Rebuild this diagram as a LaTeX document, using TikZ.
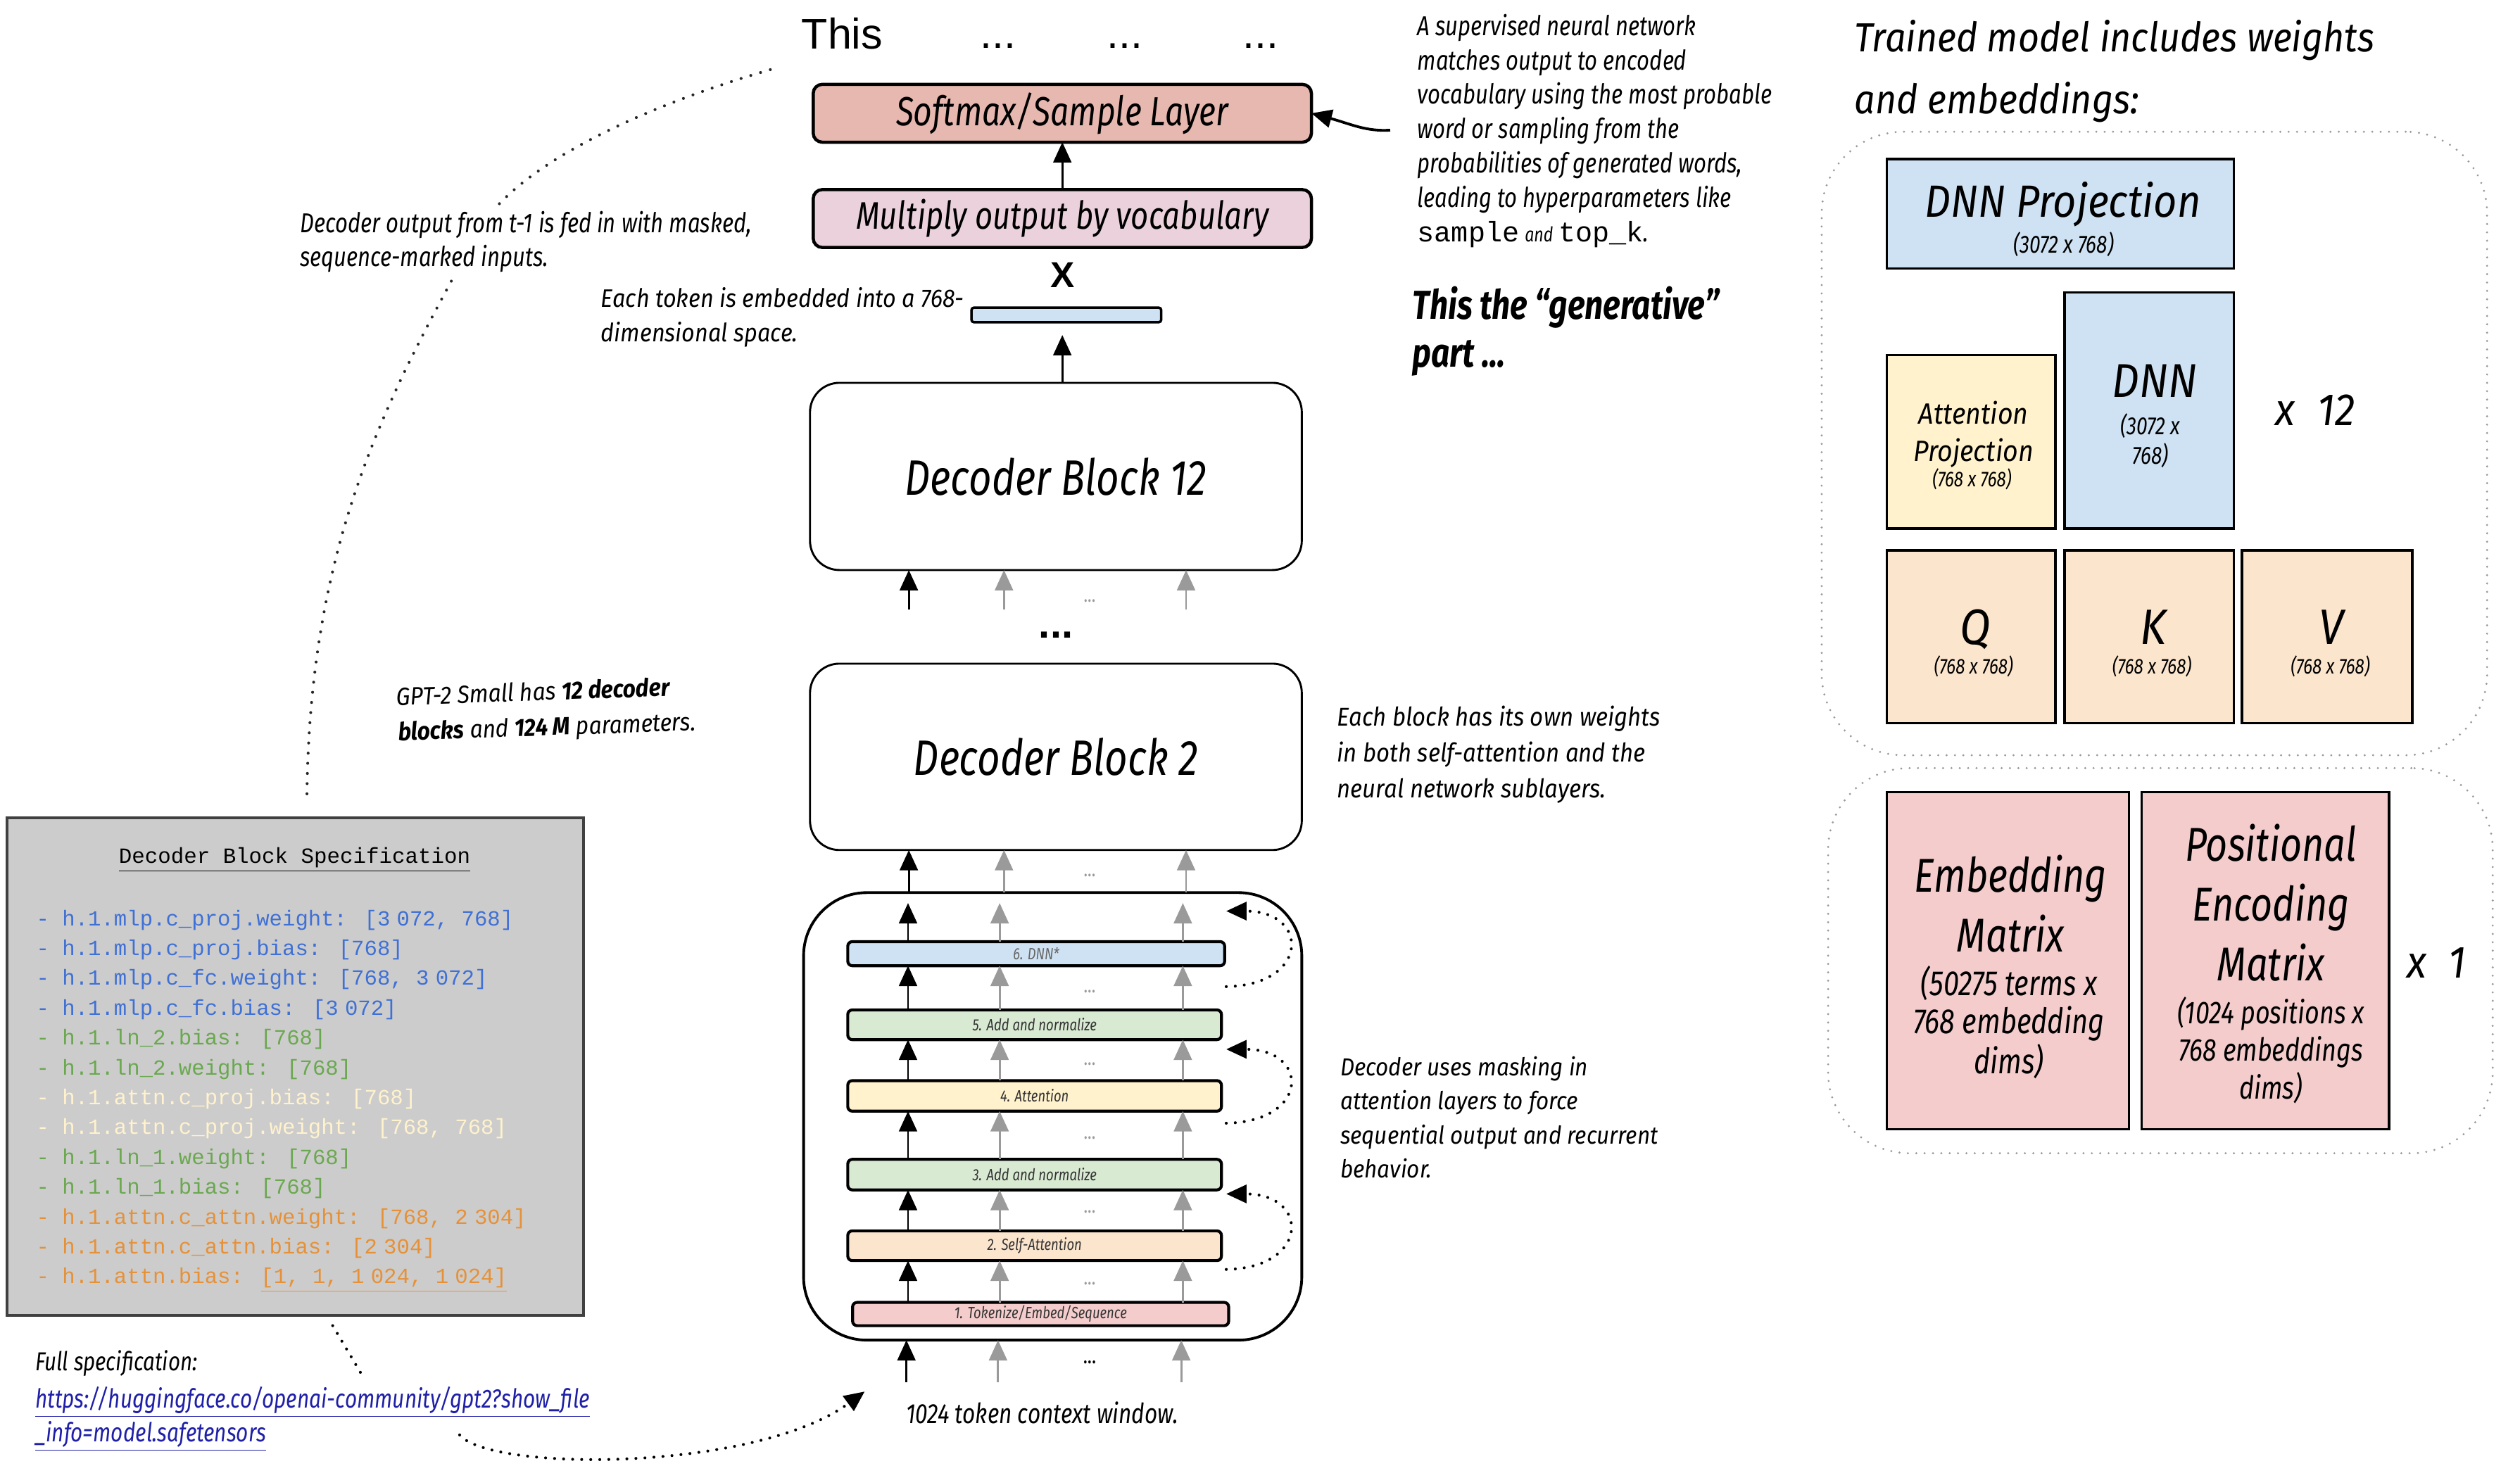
\documentclass[tikz,border=0pt]{standalone}
\usepackage{fontspec}
\setmainfont{Fira Sans}
\newfontfamily\fcav[FakeStretch=0.8]{Fira Sans}
\newfontfamily\fpat[FakeStretch=0.9]{Fira Sans}
\newfontfamily\fmono{Liberation Mono}
\newfontfamily\farial{Liberation Sans}
\usetikzlibrary{arrows.meta,calc}
\newdimen\U \U=0.025cm
\newcommand{\fsz}[2]{\fontsize{#1}{#2}\selectfont}
\newcommand{\lns}[1]{\begin{tabular}[t]{@{}l@{}}#1\end{tabular}}
\newcommand{\clns}[1]{\begin{tabular}[t]{@{}c@{}}#1\end{tabular}}
\definecolor{smx}{HTML}{E6B8AF}
\definecolor{mul}{HTML}{EAD1DC}
\definecolor{lblue}{HTML}{CFE2F3}
\definecolor{lgreen}{HTML}{D9EAD3}
\definecolor{lyellow}{HTML}{FFF2CC}
\definecolor{lorange}{HTML}{FCE5CD}
\definecolor{lpink}{HTML}{F4CCCC}
\definecolor{agray}{HTML}{9A9A9A}
\definecolor{specbg}{HTML}{CCCCCC}
\definecolor{specbd}{HTML}{404040}
\definecolor{sblue}{HTML}{3F70D5}
\definecolor{sgreen}{HTML}{6AA84F}
\definecolor{scream}{HTML}{FFF2CC}
\definecolor{sorange}{HTML}{E69138}
\definecolor{urlblue}{HTML}{1F1FA8}
\definecolor{dotgray}{HTML}{9A9A9A}
\definecolor{labtxt}{HTML}{333333}
\begin{document}
\begin{tikzpicture}[x=0.025cm,y=-0.025cm,
  every node/.style={inner sep=0pt,outer sep=0pt},
  hand/.style 2 args={font=\fcav\itshape\fsz{#1}{#2}},
  pat/.style 2 args={font=\fpat\itshape\fsz{#1}{#2}},
  tip/.style={-{Triangle[length=9pt,width=8pt]}},
  blk/.style={tip,draw=black,line width=0.9pt},
  gry/.style={tip,draw=agray,line width=0.9pt},
  dotsblk/.style={draw=black,line width=1.3pt,line cap=round,dash pattern=on 0pt off 4pt},
  dotsgray/.style={draw=black!85,line width=1.3pt,line cap=round,dash pattern=on 0pt off 4.5pt},
  dotbox/.style={draw=dotgray,line width=1pt,line cap=round,dash pattern=on 0pt off 3.7pt,rounded corners=36pt},
  cbox/.style={draw,line width=1.4pt,rounded corners=4pt},
  layer/.style={draw,line width=1.3pt,rounded corners=2pt,hand={7.2}{8},text=labtxt},
  dblock/.style={draw,line width=0.9pt,rounded corners=13pt,minimum width=306*\U,hand={22}{24}},
  wbox/.style={draw,line width=1.1pt},
  gdots/.style={font=\fcav\fsz{9}{10},text=agray},
  spec/.style={font=\fmono\fsz{9.55}{11},anchor=base west},
]
\useasboundingbox (0,0) rectangle (1568,912);

% ---------- top output tokens ----------
\node[font=\farial\fsz{19}{22},anchor=base] (this) at (524,30.5) {This};
\node[font=\farial\fsz{19}{22},anchor=base] (td1) at (621,30) {...};
\node[font=\farial\fsz{19}{22},anchor=base] (td2) at (700,30) {...};
\node[font=\farial\fsz{19}{22},anchor=base] (td3) at (784.5,30) {...};

% ---------- output head ----------
\node[cbox,fill=smx,minimum width=310*\U,minimum height=36*\U,hand={18}{20}] (softmax) at (661,70.5) {Softmax/Sample Layer};
\node[cbox,fill=mul,minimum width=310*\U,minimum height=36*\U,hand={17}{20}] (mult) at (661,136) {Multiply output by vocabulary};
\draw[blk] (mult.north) -- (softmax.south);
\node[font=\farial\bfseries\fsz{16}{18}] (xmul) at (661,171) {X};
\node[draw,fill=lblue,line width=1.1pt,rounded corners=1pt,minimum width=118*\U,minimum height=9*\U] (bar) at (663.5,196) {};

% ---------- decoder blocks ----------
\node[dblock,minimum height=116.5*\U] (db12) at (657,296.5) {Decoder Block 12};
\node[dblock,minimum height=116*\U] (db2) at (657,471) {Decoder Block 2};
\draw[blk] (db12.north -| mult.south) -- ($(bar.south -| mult.south)+(0,8)$);

\draw[blk] (565.5,379.5) -- (565.5,0 |- db12.south);
\draw[gry] (624.7,379.5) -- (624.7,0 |- db12.south);
\draw[gry] (738,379.5) -- (738,0 |- db12.south);
\node[gdots] (gd0) at (678,374) {...};
\node[font=\farial\bfseries\fsz{18}{20},anchor=base] (bigdots) at (657,397) {...};

% ---------- expanded block ----------
\node[draw,line width=1.2pt,rounded corners=28pt,minimum width=310*\U,minimum height=278.5*\U] (cont) at (655,694.75) {};
\draw[blk] (565.5,0 |- cont.north) -- (565.5,0 |- db2.south);
\draw[gry] (624.7,0 |- cont.north) -- (624.7,0 |- db2.south);
\draw[gry] (738,0 |- cont.north) -- (738,0 |- db2.south);
\node[gdots] (gd1) at (678,545) {...};

\node[layer,fill=lblue,minimum width=234.5*\U,minimum height=15*\U,text=black!60] (l6) at (644.75,593.5) {6. DNN*};
\node[layer,fill=lgreen,minimum width=232.5*\U,minimum height=18.5*\U] (l5) at (643.75,637.75) {5. Add and normalize};
\node[layer,fill=lyellow,minimum width=232.5*\U,minimum height=19*\U] (l4) at (643.75,682) {4. Attention};
\node[layer,fill=lgreen,minimum width=232.5*\U,minimum height=19*\U] (l3) at (643.75,731) {3. Add and normalize};
\node[layer,fill=lorange,minimum width=232.5*\U,minimum height=18.5*\U] (l2) at (643.75,775.25) {2. Self-Attention};
\node[layer,fill=lpink,minimum width=234*\U,minimum height=14.5*\U] (l1) at (647.5,817.75) {1. Tokenize/Embed/Sequence};

\coordinate (l6top) at (565,562);
\draw[blk] (565,0 |- l6.north) -- (l6top);
\draw[gry] (622,0 |- l6.north) -- (622,562);
\draw[gry] (736,0 |- l6.north) -- (736,562);
\foreach \lo/\hi in {l5/l6,l4/l5,l3/l4,l2/l3,l1/l2}{
  \draw[blk] (565,0 |- \lo.north) -- (565,0 |- \hi.south);
  \draw[gry] (622,0 |- \lo.north) -- (622,0 |- \hi.south);
  \draw[gry] (736,0 |- \lo.north) -- (736,0 |- \hi.south);
}
\node[gdots] (gd2) at (678,617) {...};
\node[gdots] (gd3) at (678,662) {...};
\node[gdots] (gd4) at (678,708) {...};
\node[gdots] (gd5) at (678,754) {...};
\node[gdots] (gd6) at (678,799) {...};

% residual (dotted) connections
\coordinate (r1a) at (763,614); \coordinate (r1b) at (763,567);
\coordinate (r2a) at (763,699); \coordinate (r2b) at (763,653);
\coordinate (r3a) at (763,790); \coordinate (r3b) at (763,743);
\draw[dotsblk,tip] (r1a) .. controls (815,613) and (815,567) .. (r1b);
\draw[dotsblk,tip] (r2a) .. controls (815,698) and (815,653) .. (r2b);
\draw[dotsblk,tip] (r3a) .. controls (815,789) and (815,743) .. (r3b);

% inputs
\draw[blk] (564,860) -- (564,0 |- cont.south);
\draw[gry] (621,860) -- (621,0 |- cont.south);
\draw[gry] (735,860) -- (735,0 |- cont.south);
\node[font=\fcav\fsz{10}{11}] (ind) at (678,848) {...};
\node[hand={12.3}{15},anchor=base west] (ctx) at (563.7,886) {1024 token context window.};

% ---------- left side ----------
\coordinate (ctop) at (484,42);
\coordinate (cbot) at (191,494);
\draw[dotsgray] (cbot) .. controls (193,330) and (245,240) .. (300,140) .. controls (330,95) and (420,60) .. (ctop);
\node[hand={12.1}{15.2},anchor=base west,fill=white,inner sep=1pt] (decout) at (185.4,144.6) {\lns{Decoder output from t-1 is fed in with masked,\\sequence-marked inputs.}};
\node[pat={11.2}{15.3},anchor=base west] (embtxt) at (374,191) {\lns{Each token is embedded into a 768-\\dimensional space.}};
\node[pat={11}{13},anchor=base west,rotate=2] (gpt1) at (247,439) {GPT-2 Small has \textbf{12 decoder}};
\node[pat={11}{13},anchor=base west,rotate=2] (gpt2) at (248,461) {\textbf{blocks} and \textbf{124 M} parameters.};

\node[draw=specbd,fill=specbg,line width=1.3pt,minimum width=358.7*\U,minimum height=309.7*\U] (spec) at (183.65,663.85) {};
\node[font=\fmono\fsz{9.6}{11},anchor=base,text=black] (spectitle) at (183.3,537.2) {\underline{Decoder Block Specification}};
\node[spec,text=sblue] (s1) at (22.6,576) {- h.1.mlp.c\_proj.weight: [3\kern.3em072, 768]};
\node[spec,text=sblue] (s2) at (22.6,594.57) {- h.1.mlp.c\_proj.bias: [768]};
\node[spec,text=sblue] (s3) at (22.6,613.14) {- h.1.mlp.c\_fc.weight: [768, 3\kern.3em072]};
\node[spec,text=sblue] (s4) at (22.6,631.71) {- h.1.mlp.c\_fc.bias: [3\kern.3em072]};
\node[spec,text=sgreen] (s5) at (22.6,650.28) {- h.1.ln\_2.bias: [768]};
\node[spec,text=sgreen] (s6) at (22.6,668.85) {- h.1.ln\_2.weight: [768]};
\node[spec,text=scream] (s7) at (22.6,687.42) {- h.1.attn.c\_proj.bias: [768]};
\node[spec,text=scream] (s8) at (22.6,705.99) {- h.1.attn.c\_proj.weight: [768, 768]};
\node[spec,text=sgreen] (s9) at (22.6,724.56) {- h.1.ln\_1.weight: [768]};
\node[spec,text=sgreen] (s10) at (22.6,743.13) {- h.1.ln\_1.bias: [768]};
\node[spec,text=sorange] (s11) at (22.6,761.7) {- h.1.attn.c\_attn.weight: [768, 2\kern.3em304]};
\node[spec,text=sorange] (s12) at (22.6,780.27) {- h.1.attn.c\_attn.bias: [2\kern.3em304]};
\node[spec,text=sorange] (s13) at (22.6,798.84) {- h.1.attn.bias: \underline{[1, 1, 1\kern.3em024, 1\kern.3em024]}};

\node[hand={11.5}{13},anchor=base west] (fullspec) at (22,853) {Full specification:};
\node[hand={11.6}{15},anchor=base west,text=urlblue] (url) at (22,876) {\lns{\underline{https://huggingface.co/openai-community/gpt2?show\_file}\\\underline{\_info=model.safetensors}}};
\coordinate (fs1) at (207,825); \coordinate (fs2) at (226,857);
\draw[dotsblk] (fs1) -- (fs2);
\coordinate (ua) at (286,893); \coordinate (ub) at (538,866);
\draw[dotsblk,tip] (ua) .. controls (305,916) and (470,916) .. (ub);

% ---------- right annotations ----------
\node[hand={12.1}{15.2},anchor=base west] (sup) at (882,22) {\lns{A supervised neural network\\matches output to encoded\\vocabulary using the most probable\\word or sampling from the\\probabilities of generated words,\\leading to hyperparameters like\\{\fmono\upshape\fsz{12.5}{15.2}sample} {\fsz{9}{15.2}and} {\fmono\upshape\fsz{12.5}{15.2}top\_k}.}};
\coordinate (supa) at (865,81);
\draw[blk,line width=1.2pt] (supa) .. controls (850,82) and (840,77) .. (softmax.east);
\node[font=\fcav\bfseries\itshape\fsz{17.9}{21},anchor=base west] (gen) at (879,198.7) {\lns{This the “generative”\\part ...}};
\node[pat={11.4}{15.9},anchor=base west] (eachblk) at (832,451.6) {\lns{Each block has its own weights\\in both self-attention and the\\neural network sublayers.}};
\node[pat={10.9}{15.1},anchor=base west] (mask) at (834,669.3) {\lns{Decoder uses masking in\\attention layers to force\\sequential output and recurrent\\behavior.}};

% ---------- right panel ----------
\node[pat={18}{27.2},anchor=base west] (trained) at (1154,32.3) {\lns{Trained model includes weights\\and embeddings:}};
\node[dotbox,minimum width=414*\U,minimum height=388*\U] (grp1) at (1340.5,276) {};
\node[dotbox,minimum width=413.5*\U,minimum height=239.7*\U] (grp2) at (1344.25,597.85) {};

\node[wbox,fill=lblue,minimum width=216*\U,minimum height=68*\U] (dnnp) at (1282,133) {};
\node[pat={20}{24},anchor=base] (dnnpt) at (1283.5,135) {DNN Projection};
\node[hand={11}{13},anchor=base] (dnnps) at (1284,157.3) {(3072 x 768)};

\node[wbox,fill=lyellow,minimum width=105*\U,minimum height=108*\U] (attp) at (1226.5,275) {};
\node[pat={13}{16.4},anchor=base] (attpt) at (1228,264) {\clns{Attention\\Projection}};
\node[hand={9.5}{11},anchor=base] (attps) at (1227,302.7) {(768 x 768)};

\node[wbox,fill=lblue,minimum width=105.4*\U,minimum height=147*\U] (dnn) at (1337.3,255.5) {};
\node[pat={21}{24},anchor=base] (dnnt) at (1340.7,247.3) {DNN};
\node[hand={11}{13.1},anchor=base] (dnns) at (1338,270.4) {\clns{(3072 x\\768)}};
\node[pat={20}{22},anchor=base] (x12) at (1440.5,264.8) {x\hspace{0.5em}12};

\node[wbox,fill=lorange,minimum width=105*\U,minimum height=107.4*\U] (q) at (1226.5,396.3) {};
\node[pat={22}{24},anchor=base] (qt) at (1229,401) {Q};
\node[hand={9.5}{11},anchor=base] (qs) at (1228,419.4) {(768 x 768)};
\node[wbox,fill=lorange,minimum width=105.4*\U,minimum height=107.4*\U] (k) at (1337.3,396.3) {};
\node[pat={22}{24},anchor=base] (kt) at (1340,401) {K};
\node[hand={9.5}{11},anchor=base] (ks) at (1339,419.4) {(768 x 768)};
\node[wbox,fill=lorange,minimum width=106*\U,minimum height=107.4*\U] (v) at (1448,396.3) {};
\node[pat={22}{24},anchor=base] (vt) at (1450.6,401) {V};
\node[hand={9.5}{11},anchor=base] (vs) at (1450,419.4) {(768 x 768)};

\node[wbox,fill=lpink,minimum width=150.6*\U,minimum height=209.8*\U] (emb) at (1249.3,597.9) {};
\node[hand={21}{26.4},anchor=base] (embt) at (1251,555.2) {\clns{Embedding\\Matrix}};
\node[hand={15.5}{15.7},anchor=base] (embs) at (1250,619.7) {\clns{(50275 terms x\\768 embedding\\dims)}};
\node[wbox,fill=lpink,minimum width=154*\U,minimum height=209.8*\U] (pos) at (1409.6,597.9) {};
\node[hand={21}{26.5},anchor=base] (post) at (1413,536) {\clns{Positional\\Encoding\\Matrix}};
\node[hand={14}{16.7},anchor=base] (poss) at (1413,636.9) {\clns{(1024 positions x\\768 embeddings\\dims)}};
\node[pat={20}{22},anchor=base] (x1) at (1516,608.8) {x\hspace{0.5em}1};
\end{tikzpicture}
\end{document}
